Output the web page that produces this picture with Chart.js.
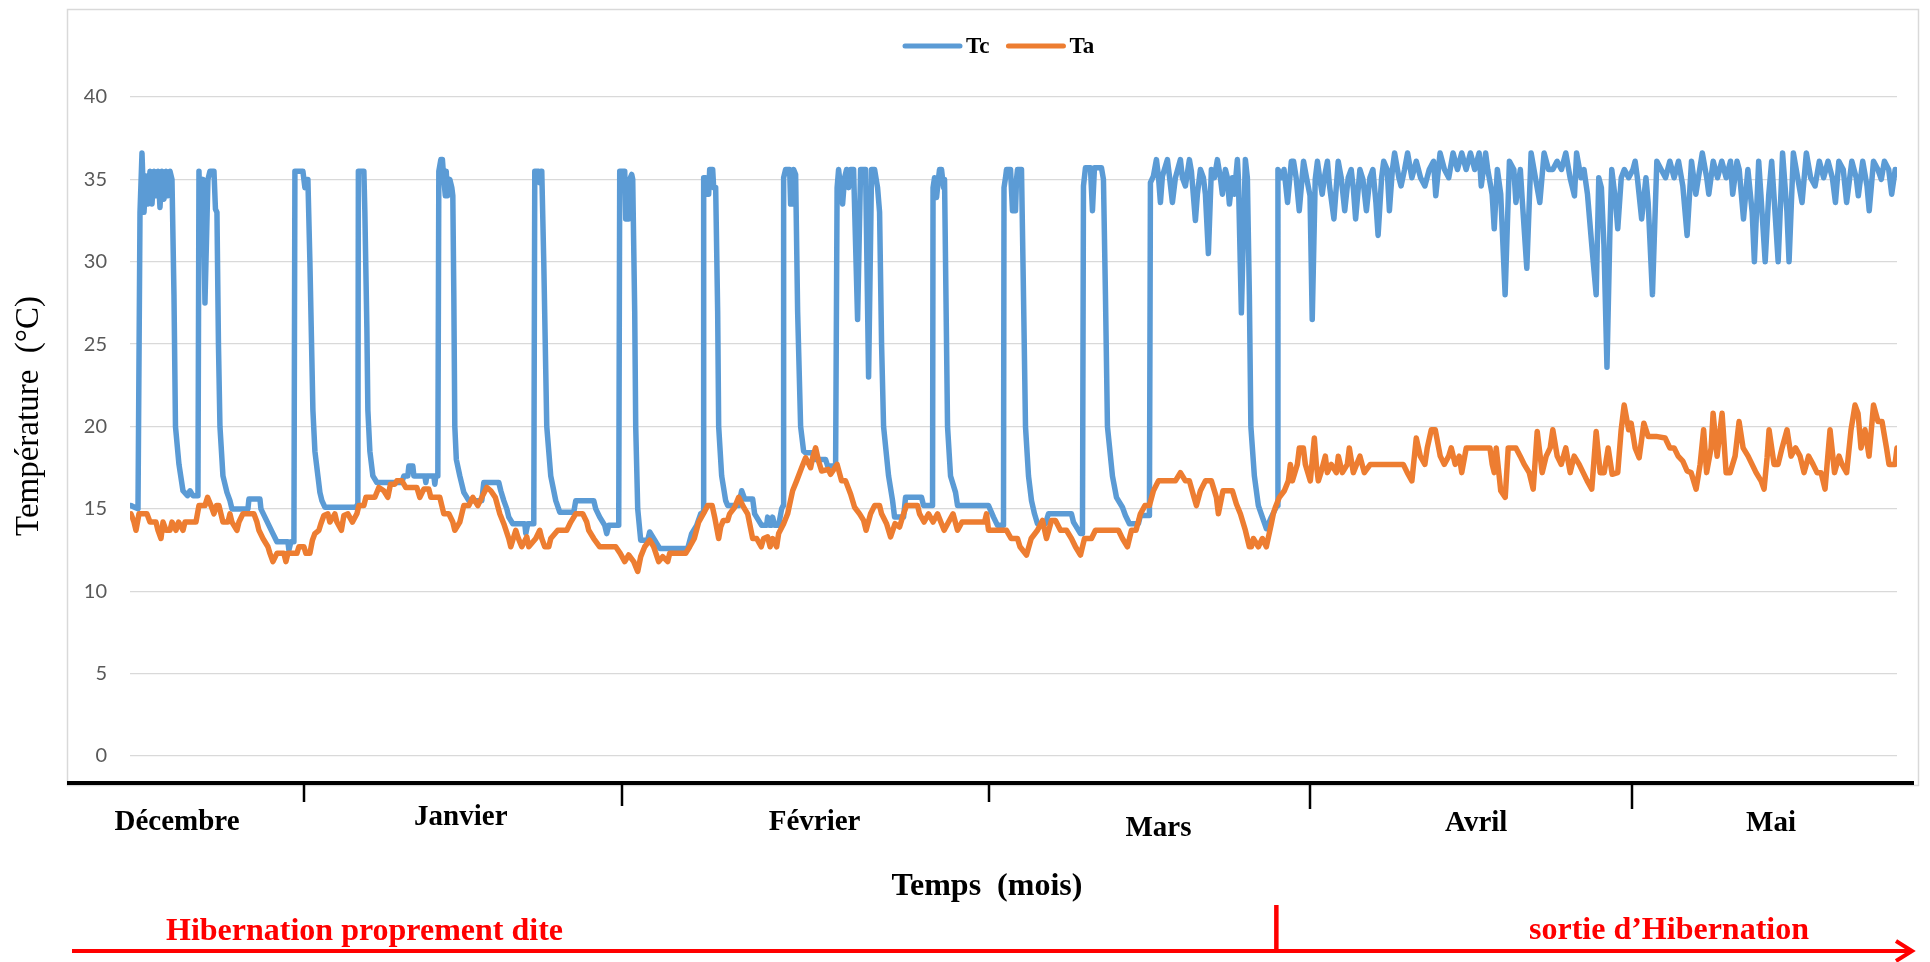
<!DOCTYPE html>
<html lang="fr">
<head>
<meta charset="utf-8">
<title>Température corporelle (Tc) et ambiante (Ta)</title>
<script src="https://cdn.jsdelivr.net/npm/chart.js@4.4.1/dist/chart.umd.min.js"></script>
<style>
  html, body { margin: 0; padding: 0; background: #ffffff; }
  canvas { display: block; }
</style>
</head>
<body>
<canvas id="chart" width="1930" height="962"></canvas>
<script>
// ---- Readings: [day of record, temperature in °C] ----
// Tc: body temperature
const tcDec = [[0.1,15.2],[0.8,15.0],[1.0,33.0],[1.2,36.6],[1.4,33.0],[1.6,35.2],[1.8,33.5],[2.0,35.5],[2.2,33.5],[2.4,35.5],[2.6,34.0],[2.8,35.5],[3.0,33.3],[3.2,35.5],[3.4,33.8],[3.6,35.5],[3.8,34.0],[4.0,35.5],[4.2,35.0],[4.4,28.0],[4.55,20.0],[4.9,17.7],[5.3,16.1],[5.75,15.8],[6.0,16.1],[6.3,15.8],[6.8,15.8],
  [6.9,35.5],[7.1,31.0],[7.3,35.0],[7.5,27.5],[7.8,35.0],[8.0,35.5],[8.4,35.5],[8.55,33.2],[8.7,33.0],[8.85,25.0],[9.0,20.0],[9.3,17.0],[9.7,16.0],[10.0,15.5],[10.2,15.0],[11.8,15.0],[11.9,15.6],[13.0,15.6],[13.1,15.0],[13.5,14.5],[13.9,14.0],[14.3,13.5],[14.7,13.0],[15.8,13.0],[15.9,12.5],[16.1,13.0],[16.4,13.0],
  [16.5,35.5],[17.3,35.5]];
const tcJan = [[17.5,34.5],[17.7,35.0],[17.8,35.0],[18.0,30.0],[18.3,21.0],[18.5,18.5],[18.8,17.0],[19.0,16.0],[19.2,15.5],[19.5,15.1],[22.6,15.1],[22.8,15.3],
  [22.85,35.5],[23.4,35.5],[23.5,33.0],[23.7,26.0],[23.8,21.0],[24.0,18.5],[24.3,17.0],[24.7,16.6],[27.2,16.6],[27.4,17.0],[27.8,17.0],[27.9,17.6],[28.3,17.6],[28.4,17.0],[29.5,17.0],[29.6,16.6],[29.7,17.0],[30.4,17.0],[30.5,16.5],[30.6,17.0],[30.8,17.0],
  [30.9,35.5],[31.1,36.2],[31.26,36.2],[31.4,35.0],[31.55,34.0],[31.64,35.5],[31.77,34.0],[32.0,35.0],[32.2,34.5],[32.3,34.0],[32.4,28.0],[32.5,20.0],[32.65,18.0],[33.0,17.0],[33.4,16.0],[33.9,15.5],[35.2,15.5],[35.4,16.6],[36.9,16.6],[37.1,16.1],[37.4,15.5],[37.7,15.0],[37.9,14.5],[38.3,14.1],[39.5,14.1],[39.6,13.5],[39.8,14.1],[40.4,14.1],
  [40.5,35.5],[40.9,35.5],[41.0,34.8],[41.1,35.5],[41.2,35.5],[41.4,30.0],[41.7,20.0],[42.1,17.0],[42.6,15.5],[43.0,14.8],[44.4,14.8],[44.6,15.5],[46.4,15.5],[46.6,15.0],[47.0,14.5],[47.5,14.0],[47.7,13.5],[47.9,14.0],[48.9,14.0]];
const tcFev = [[49.0,35.5],[49.5,35.5],[49.6,32.6],[49.9,32.6],[50.0,35.0],[50.2,35.3],[50.3,35.0],[50.5,27.0],[50.6,20.0],[50.8,15.0],[51.1,13.1],[51.8,13.1],[52.0,13.6],[52.5,13.1],[53.0,12.6],[55.8,12.6],[56.2,13.5],[56.7,14.0],[57.1,14.7],[57.35,14.8],
  [57.4,35.1],[57.6,35.1],[57.7,34.1],[57.9,34.1],[58.0,35.6],[58.3,35.6],[58.4,34.5],[58.6,34.5],[58.8,27.0],[58.9,20.0],[59.2,17.0],[59.6,15.5],[59.8,15.2],[60.9,15.2],[61.2,16.1],[61.5,15.6],[62.3,15.6],[62.5,14.7],[63.2,14.0],[63.7,14.0],[63.8,14.5],[64.0,14.0],[64.2,14.0],[64.3,14.5],[64.5,14.0],[64.9,14.0],[65.2,15.0],[65.35,15.2],
  [65.4,35.1],[65.6,35.6],[66.0,35.6],[66.1,33.5],[66.3,33.5],[66.4,35.6],[66.6,35.3],[66.8,27.0],[67.1,20.0],[67.4,18.5],[67.6,18.4],[68.3,18.4],[68.5,18.0],[69.6,18.0],[69.8,17.6],[70.6,17.6],
  [70.75,34.5],[70.9,35.6],[71.1,34.5],[71.3,33.5],[71.5,35.1],[71.7,35.6],[71.9,34.5],[72.1,35.6],[72.4,35.6],[72.8,26.5],[73.1,35.6],[73.6,35.6],[73.9,23.0],[74.2,35.6],[74.5,35.6],[74.8,34.5],[75.0,33.0],[75.2,25.0],[75.4,20.0],[75.9,17.0],[76.3,15.5],[76.5,14.5],[77.4,14.5],[77.6,15.7],[79.2,15.7],[79.4,15.2],[80.3,15.2],
  [80.35,34.5],[80.5,35.1],[80.7,33.9],[80.9,35.1],[81.0,35.6],[81.2,35.6],[81.4,34.5],[81.5,35.0],[81.6,30.0],[81.8,20.0],[82.1,17.0],[82.6,16.0],[82.8,15.2],[85.9,15.2]];
const tcMar = [[86.4,14.5],[86.8,14.0],[87.4,14.0],
  [87.45,34.5],[87.6,35.1],[87.7,35.6],[88.1,35.6],[88.3,33.1],[88.6,33.1],[88.7,35.0],[88.8,35.6],[89.2,35.6],[89.4,28.0],[89.6,20.0],[89.9,17.0],[90.2,15.5],[90.5,14.7],[90.8,14.1],[91.6,14.1],[91.9,14.7],[94.2,14.7],[94.4,14.2],[95.1,13.5],[95.3,13.5],
  [95.4,34.6],[95.6,35.7],[96.1,35.7],[96.3,33.1],[96.5,35.7],[97.2,35.7],[97.4,35.0],[97.6,28.0],[97.8,20.0],[98.3,17.0],[98.7,15.7],[99.3,15.1],[99.6,14.6],[100.0,14.1],[100.9,14.1],[101.1,14.6],[102.0,14.6],
  [102.1,34.8],[102.4,35.2],[102.7,36.2],[102.9,35.2],[103.1,33.6],[103.3,35.2],[103.8,36.2],[104.0,35.2],[104.3,33.6],[104.6,35.1],[105.1,36.2],[105.3,35.1],[105.6,34.6],[106.0,36.2],[106.2,35.5],[106.6,32.5],[106.8,34.1],[107.1,35.6],[107.4,35.1],[107.6,34.1],[107.9,30.5],[108.2,35.6],[108.5,35.1],[108.8,36.2],[109.1,35.1],[109.3,34.1],[109.6,35.6],[109.8,35.1],[110.0,33.5],[110.3,35.1],[110.5,34.1],[110.8,36.2],[110.9,35.1],[111.2,26.9],[111.6,36.2],[111.8,35.1],[112.0,28.0],[112.15,20.0],[112.5,17.0],[112.9,15.2],[113.3,14.5],[113.7,13.8],[114.2,14.5],[114.6,15.0],[114.8,15.2],
  [114.86,35.6],[115.25,35.1],[115.47,35.6],[115.82,33.6],[116.2,36.1],[116.42,36.1],[116.68,35.1],[116.99,33.1],[117.42,36.1],[117.72,35.1]];
const tcAvr = [[118.07,34.0],[118.29,26.5],[118.59,35.0],[118.81,36.1],[119.03,35.1],[119.29,34.1],[119.5,35.1],[119.81,36.1],[120.02,34.6],[120.46,32.6],[120.89,36.1],[121.19,35.1],[121.54,33.1],[121.89,35.1],[122.19,35.6],[122.41,34.4],[122.63,32.6],[123.06,35.6],[123.36,35.0],[123.71,33.1],[124.06,35.1],[124.36,35.6],[124.66,33.6],[124.88,31.6],[125.23,35.1],[125.44,36.1],[125.79,35.6],[126.01,33.1],[126.31,35.6],[126.53,36.6],[126.96,35.1],[127.18,34.6],[127.53,35.6],[127.83,36.6],[128.26,35.1],[128.7,36.1],[129.13,35.1],[129.56,34.6],[130.0,35.6],[130.43,36.1],[130.65,34.0],[131.08,36.6],[131.52,35.6],[131.95,35.1],[132.38,36.6],[132.82,35.6],[133.25,36.6],[133.69,35.6],[134.12,36.6],[134.55,35.6],[134.99,36.6],[135.2,34.6],[135.64,36.6],[135.85,35.6],[136.29,34.1],[136.5,32.0],[136.81,35.6],[137.15,34.1],[137.59,28.0],[138.02,36.1],[138.46,35.6],[138.67,33.6],[139.11,35.6],[139.32,33.6],[139.76,29.6],[140.19,36.6],[140.62,35.1],[141.06,33.6],[141.49,36.6],[141.93,35.6],[142.36,35.6],[142.79,36.1],[143.23,35.6],[143.66,36.6],[144.09,35.1],[144.53,34.0],[144.74,36.6],[145.18,35.1],[145.48,35.6],[145.83,34.1],[146.26,31.0],[146.7,28.0],[146.96,35.1],[147.22,34.5],[147.48,31.0],[147.78,23.6],[148.08,32.0],[148.26,35.6],[148.65,33.6],[148.86,32.0],[149.21,35.1],[149.52,35.6],[149.95,35.1]];
const tcMai = [[150.38,35.6],[150.6,36.1],[150.82,35.1],[151.25,32.6],[151.68,35.1],[151.9,33.6],[152.33,28.0],[152.77,36.1],[153.2,35.6],[153.64,35.1],[154.07,36.1],[154.5,35.1],[154.94,36.1],[155.37,34.6],[155.8,31.6],[156.24,36.1],[156.67,34.1],[157.32,36.6],[157.76,35.1],[157.97,34.1],[158.41,36.1],[158.84,35.1],[159.27,36.1],[159.71,35.1],[160.14,36.1],[160.36,34.1],[160.79,36.1],[161.01,35.6],[161.44,32.6],[161.88,35.6],[162.31,33.0],[162.53,30.0],[162.96,36.1],[163.18,34.1],[163.61,30.0],[163.96,34.0],[164.26,36.1],[164.48,34.1],[164.91,30.0],[165.35,36.6],[165.78,33.1],[166.0,30.0],[166.43,36.6],[166.86,35.1],[167.3,33.6],[167.73,36.6],[168.16,35.1],[168.6,34.6],[169.03,36.1],[169.46,35.1],[169.9,36.1],[170.33,35.1],[170.64,33.6],[170.98,36.1],[171.42,35.6],[171.76,33.6],[172.28,36.1],[172.72,35.1],[172.93,34.0],[173.37,36.1],[173.8,34.6],[174.02,33.1],[174.45,36.1],[174.89,35.6],[175.23,35.0],[175.54,36.1],[175.97,35.6],[176.27,34.1],[176.62,35.6]];

// Ta: ambient temperature
const taDec = [[0.1,14.7],[0.4,14.2],[0.6,13.7],[0.9,14.7],[1.7,14.7],[2.0,14.2],[2.6,14.2],[2.8,13.7],[3.1,13.2],[3.3,14.2],[3.6,13.7],[4.0,13.7],[4.2,14.2],[4.6,13.7],[4.86,14.2],[5.3,13.7],[5.5,14.2],[6.6,14.2],[6.9,15.2],[7.5,15.2],[7.76,15.7],[8.1,15.2],[8.4,14.7],[8.65,15.2],[8.9,15.2],[9.1,14.7],[9.3,14.2],[9.8,14.2],[10.0,14.7],[10.2,14.2],[10.7,13.7],[10.9,14.2],[11.3,14.7],[12.4,14.7],[12.7,14.2],[12.9,13.7],[13.3,13.2],[13.8,12.7],[14.0,12.3],[14.3,11.8],[14.7,12.3],[15.4,12.3],[15.6,11.8],[15.8,12.3],[16.7,12.3],[16.9,12.7]];
const taJan = [[17.4,12.7],[17.6,12.3],[18.0,12.3],[18.25,13.1],[18.5,13.5],[18.9,13.7],[19.1,14.1],[19.4,14.6],[19.8,14.7],[20.0,14.2],[20.5,14.7],[20.7,14.2],[21.15,13.7],[21.4,14.6],[21.8,14.7],[22.26,14.2],[22.7,14.7],[22.9,15.2],[23.4,15.2],[23.6,15.7],[24.5,15.7],[24.9,16.3],[25.4,16.1],[25.8,15.7],[26.06,16.5],[26.5,16.5],[26.7,16.7],[27.2,16.7],[27.4,16.5],[27.6,16.3],[28.7,16.3],[29.0,15.7],[29.4,16.2],[29.9,16.2],[30.1,15.7],[31.0,15.7],[31.2,15.2],[31.4,14.7],[31.9,14.7],[32.3,14.2],[32.5,13.7],[33.0,14.2],[33.4,15.2],[33.9,15.2],[34.3,15.7],[34.8,15.2],[35.2,15.7],[35.7,16.3],[36.1,16.1],[36.55,15.7],[37.0,14.7],[37.4,14.1],[37.9,13.2],[38.1,12.7],[38.6,13.7],[38.8,13.3],[39.2,12.7],[39.7,13.3],[39.9,12.7],[40.6,13.2],[41.0,13.7],[41.2,13.2],[41.5,12.7],[41.9,12.7],[42.1,13.2],[42.8,13.7],[43.7,13.7],[44.1,14.2],[44.6,14.7],[45.3,14.7],[45.7,14.2],[45.9,13.7],[46.4,13.2],[47.0,12.7],[48.6,12.7],[49.05,12.3]];
const taFev = [[49.5,11.8],[49.9,12.2],[50.4,11.8],[50.8,11.2],[51.1,12.1],[51.5,12.7],[52.0,13.1],[52.4,12.7],[52.9,11.8],[53.3,12.1],[53.8,11.8],[54.0,12.3],[55.6,12.3],[56.0,12.7],[56.46,13.2],[56.9,14.2],[57.36,14.7],[57.8,15.2],[58.25,15.2],[58.5,14.5],[58.9,13.2],[59.1,13.9],[59.37,14.3],[59.8,14.3],[60.0,14.7],[60.5,15.1],[60.9,15.7],[61.4,15.1],[61.8,14.7],[62.3,13.2],[62.7,13.2],[63.16,12.7],[63.4,13.2],[63.8,13.3],[64.05,12.7],[64.3,13.2],[64.7,12.7],[64.9,13.5],[65.4,14.1],[65.8,14.7],[66.3,16.1],[66.7,16.7],[67.2,17.5],[67.6,18.1],[68.1,17.5],[68.3,18.1],[68.6,18.7],[68.9,17.9],[69.2,17.3],[69.86,17.4],[70.1,17.1],[70.75,17.7],[71.2,16.7],[71.6,16.7],[72.1,15.9],[72.5,15.1],[73.0,14.7],[73.4,14.3],[73.65,13.7],[74.1,14.7],[74.5,15.2],[75.0,15.2],[75.2,14.7],[75.7,14.1],[76.1,13.3],[76.55,14.1],[77.0,13.9],[77.4,14.7],[77.7,15.2],[78.8,15.2],[79.0,14.7],[79.45,14.2],[79.9,14.7],[80.35,14.2],[80.8,14.7],[81.46,13.7],[81.9,14.2],[82.35,14.7],[82.8,13.7],[83.25,14.2],[85.5,14.2],[85.7,14.7]];
const taMar = [[85.9,13.7],[87.7,13.7],[88.16,13.2],[88.8,13.2],[89.05,12.7],[89.7,12.2],[90.17,13.2],[90.8,13.7],[91.3,14.3],[91.7,13.2],[92.2,14.3],[92.6,14.3],[93.1,13.7],[93.7,13.7],[94.2,13.2],[94.6,12.7],[95.1,12.2],[95.5,13.2],[96.2,13.2],[96.6,13.7],[98.9,13.7],[99.3,13.2],[99.8,12.7],[100.2,13.7],[100.66,13.7],[101.1,14.7],[101.55,15.2],[102.0,15.2],[102.4,16.1],[102.9,16.7],[104.6,16.7],[105.1,17.2],[105.6,16.7],[106.0,16.7],[106.46,15.7],[106.7,15.2],[107.1,16.1],[107.6,16.7],[108.2,16.7],[108.7,15.7],[108.9,14.7],[109.36,16.1],[110.3,16.1],[110.7,15.3],[111.1,14.7],[111.6,13.7],[112.0,12.7],[112.2,12.7],[112.4,13.2],[112.9,12.7],[113.3,13.2],[113.7,12.7],[114.2,14.1],[114.4,14.7],[114.6,15.1],[115.0,15.7],[115.5,16.1],[115.9,16.7],[116.1,17.7],[116.3,16.7],[116.8,17.7],[117.0,18.7],[117.4,18.7],[117.6,17.7]];
const taAvr = [[118.1,16.7],[118.5,19.3],[118.7,17.7],[118.9,16.7],[119.16,17.2],[119.6,18.2],[119.8,17.2],[120.2,17.7],[120.7,17.2],[120.9,18.2],[121.3,17.2],[121.8,17.7],[122.0,18.7],[122.4,17.2],[123.06,18.2],[123.5,17.2],[124.1,17.7],[127.4,17.7],[127.8,17.2],[128.26,16.7],[128.7,19.3],[129.1,18.2],[129.56,17.7],[129.8,18.7],[130.2,19.8],[130.6,19.8],[131.1,18.2],[131.5,17.7],[131.95,18.2],[132.2,18.7],[132.6,17.7],[133.0,18.2],[133.25,17.2],[133.7,18.7],[136.07,18.7],[136.3,17.7],[136.5,17.2],[136.7,18.7],[137.15,16.1],[137.6,15.7],[137.9,18.7],[138.67,18.7],[139.1,18.2],[139.5,17.7],[140.0,17.2],[140.4,16.2],[140.8,19.7],[141.3,17.2],[141.7,18.2],[142.1,18.7],[142.36,19.8],[142.8,18.2],[143.2,17.7],[143.66,18.7],[144.1,17.2],[144.5,18.2],[145.0,17.7],[145.4,17.2],[145.8,16.7],[146.26,16.2],[146.7,19.7],[147.1,17.2],[147.5,17.2],[147.9,18.7],[148.3,17.1],[148.86,17.2],[149.2,19.8],[149.5,21.3],[149.95,19.8]];
const taMai = [[150.2,20.2],[150.6,18.7],[151.0,18.1],[151.47,20.2],[151.9,19.4],[152.7,19.4],[153.6,19.3],[154.07,18.7],[154.5,18.7],[154.9,18.2],[155.37,17.9],[155.8,17.3],[156.2,17.2],[156.7,16.2],[157.1,17.7],[157.45,19.8],[157.75,17.2],[158.2,18.7],[158.4,20.8],[158.8,18.2],[159.3,20.8],[159.7,17.2],[160.1,17.2],[160.6,18.2],[161.0,20.3],[161.4,18.7],[161.9,18.2],[162.3,17.7],[162.7,17.2],[163.2,16.7],[163.5,16.2],[163.8,18.1],[164.0,19.8],[164.5,17.7],[164.9,17.7],[165.3,18.7],[165.8,19.8],[166.2,18.2],[166.65,18.7],[167.1,18.2],[167.5,17.2],[167.95,18.2],[168.4,17.7],[168.8,17.2],[169.2,17.2],[169.6,16.2],[170.1,19.8],[170.55,17.2],[171.0,18.2],[171.3,17.7],[171.76,17.2],[172.2,19.8],[172.6,21.3],[172.9,20.8],[173.2,18.7],[173.6,19.8],[174.0,18.2],[174.45,21.3],[174.9,20.3],[175.3,20.3],[175.75,18.7],[176.0,17.7],[176.6,17.7],[176.8,18.7]];

// Months along the time axis: label centre (day) and boundary ticks (day)
const monthNames = ['Décembre', 'Janvier', 'Février', 'Mars', 'Avril', 'Mai'];
const monthLabelDays = [4.7, 33.1, 68.5, 102.9, 134.7, 164.2];
const monthTickDays = [17.4, 49.2, 85.95, 118.1, 150.3];
// Phases of the record
const phaseNames = ['Hibernation proprement dite', 'sortie d\u2019Hibernation'];
const phaseSplitDay = 114.7;

const seriesLabels = ['Tc', 'Ta'];
const yMin = 0, yMax = 40, yStep = 5;
const dayMax = 176.8;

// ---- Layout / style ----
const SERIF = '"Liberation Serif", "Times New Roman", serif';
const BLUE = '#5B9BD5';
const ORANGE = '#ED7D31';
const RED = '#FF0000';
const monthLabelBaselines = [830, 825, 830, 836, 831, 831];
const monthTickDrops = [19, 23, 19, 26, 26];

const toPoints = rows => rows.map(([x, y]) => ({ x, y }));

const decorations = {
  id: 'decorations',
  beforeDraw(chart) {
    const { ctx } = chart;
    ctx.save();
    ctx.fillStyle = '#ffffff';
    ctx.fillRect(0, 0, chart.width, chart.height);
    // frame of the chart object
    ctx.strokeStyle = '#d9d9d9';
    ctx.lineWidth = 1.5;
    ctx.strokeRect(67.5, 9.5, 1851, 776);
    ctx.restore();
  },
  afterDraw(chart) {
    const { ctx, chartArea: area, scales: { x } } = chart;
    ctx.save();

    // legend
    ctx.font = 'bold 23px ' + SERIF;
    ctx.textBaseline = 'alphabetic';
    ctx.textAlign = 'left';
    let lx = 905;
    const ly = 46;
    chart.data.datasets.forEach(ds => {
      ctx.strokeStyle = ds.borderColor;
      ctx.lineWidth = 5;
      ctx.lineCap = 'round';
      ctx.beginPath();
      ctx.moveTo(lx, ly);
      ctx.lineTo(lx + 55, ly);
      ctx.stroke();
      ctx.fillStyle = '#000';
      ctx.fillText(ds.label, lx + 61, ly + 7);
      lx += 61 + ctx.measureText(ds.label).width + 19;
    });

    // time axis base line and month boundaries
    const baseY = area.bottom + 27;
    ctx.lineCap = 'butt';
    ctx.strokeStyle = '#000';
    ctx.lineWidth = 4;
    ctx.beginPath();
    ctx.moveTo(67, baseY);
    ctx.lineTo(1914, baseY);
    ctx.stroke();
    ctx.lineWidth = 2.5;
    monthTickDays.forEach((d, i) => {
      const px = Math.round(x.getPixelForValue(d));
      ctx.beginPath();
      ctx.moveTo(px, baseY + 2);
      ctx.lineTo(px, baseY + monthTickDrops[i]);
      ctx.stroke();
    });

    // month names
    ctx.fillStyle = '#000';
    ctx.font = 'bold 29px ' + SERIF;
    ctx.textAlign = 'center';
    monthNames.forEach((m, i) => {
      ctx.fillText(m, x.getPixelForValue(monthLabelDays[i]), monthLabelBaselines[i]);
    });

    // axis titles
    ctx.font = 'bold 32px ' + SERIF;
    ctx.fillText('Temps  (mois)', 987, 895);
    ctx.save();
    ctx.translate(38, 416);
    ctx.rotate(-Math.PI / 2);
    ctx.font = '33px ' + SERIF;
    ctx.fillText('Température  (°C)', 0, 0);
    ctx.restore();

    // phase arrow
    const ay = 951;
    const splitX = x.getPixelForValue(phaseSplitDay);
    ctx.strokeStyle = RED;
    ctx.fillStyle = RED;
    ctx.lineWidth = 4;
    ctx.beginPath();
    ctx.moveTo(72, ay);
    ctx.lineTo(1911, ay);
    ctx.stroke();
    ctx.lineJoin = 'miter';
    ctx.beginPath();
    ctx.moveTo(1896, ay - 10);
    ctx.lineTo(1912, ay);
    ctx.lineTo(1896, ay + 10);
    ctx.stroke();
    ctx.lineWidth = 4.5;
    ctx.beginPath();
    ctx.moveTo(splitX, 905);
    ctx.lineTo(splitX, ay);
    ctx.stroke();

    ctx.font = 'bold 32px ' + SERIF;
    ctx.textAlign = 'left';
    ctx.fillText(phaseNames[0], 166, 940);
    ctx.fillText(phaseNames[1], 1529, 939);

    ctx.restore();
  }
};

new Chart(document.getElementById('chart'), {
  type: 'line',
  data: {
    datasets: [
      {
        label: seriesLabels[0],
        data: toPoints([...tcDec, ...tcJan, ...tcFev, ...tcMar, ...tcAvr, ...tcMai]),
        borderColor: BLUE,
        borderWidth: 5.5,
        order: 1
      },
      {
        label: seriesLabels[1],
        data: toPoints([...taDec, ...taJan, ...taFev, ...taMar, ...taAvr, ...taMai]),
        borderColor: ORANGE,
        borderWidth: 5.5,
        order: 0
      }
    ]
  },
  options: {
    responsive: false,
    animation: false,
    devicePixelRatio: 1,
    events: [],
    layout: { padding: { left: 0, right: 33, top: 97, bottom: 206 } },
    elements: {
      point: { radius: 0, hoverRadius: 0 },
      line: { tension: 0, borderJoinStyle: 'round', borderCapStyle: 'round', fill: false }
    },
    plugins: {
      legend: { display: false },
      tooltip: { enabled: false },
      title: { display: false }
    },
    scales: {
      x: { type: 'linear', min: 0, max: dayMax, display: false },
      y: {
        min: yMin,
        max: yMax,
        ticks: {
          stepSize: yStep,
          color: '#595959',
          font: { family: 'Lato', size: 20 },
          padding: 23
        },
        grid: { color: '#d9d9d9', lineWidth: 1.3, drawTicks: false },
        border: { display: false },
        afterFit(scale) { scale.width = 130; }
      }
    }
  },
  plugins: [decorations]
});
</script>
</body>
</html>
